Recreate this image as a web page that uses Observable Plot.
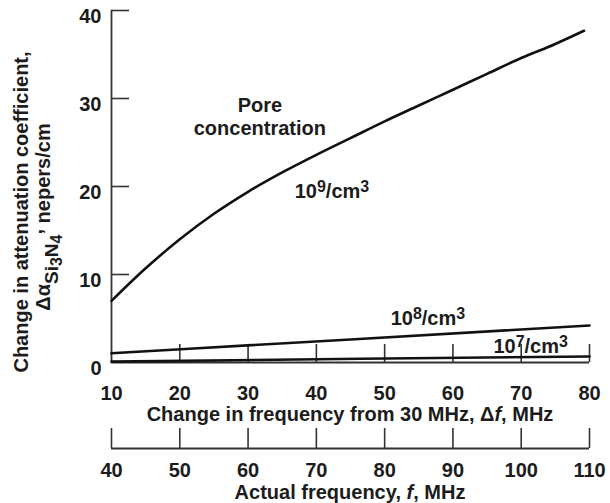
<!DOCTYPE html>
<html>
<head>
<meta charset="utf-8">
<script src="https://cdn.jsdelivr.net/npm/d3@7"></script>
<script src="https://cdn.jsdelivr.net/npm/@observablehq/plot@0.6"></script>
<style>
  body { margin: 0; background: #fff; }
  #chart svg { display: block; }
</style>
</head>
<body>
<div id="chart"></div>
<script>
// Change in attenuation coefficient of Si3N4 vs. frequency, for three pore concentrations.
const shiftTicks = [10, 20, 30, 40, 50, 60, 70, 80];          // Δf, MHz
const actualTicks = [40, 50, 60, 70, 80, 90, 100, 110];      // f, MHz
const alphaTicks = [0, 10, 20, 30, 40];                       // nepers/cm

// 10^9 pores/cm^3
const df9 = [10, 15, 20, 25, 30, 35, 40, 45, 50, 55, 60, 65, 70, 75, 79.2];
const alpha9 = [7.0, 10.7, 14.0, 16.9, 19.4, 21.6, 23.6, 25.5, 27.4, 29.2, 31.0, 32.8, 34.6, 36.2, 37.7];
// 10^8 pores/cm^3
const df8 = [10, 45, 80];
const alpha8 = [1.05, 2.62, 4.2];
// 10^7 pores/cm^3
const df7 = [10, 46.5, 80];
const alpha7 = [0.1, 0.42, 0.68];

const FONT = "'Liberation Sans', Arial, Helvetica, sans-serif";
const INK = "#1c1c1c";
const AXIS = "#333";

const toRows = (xs, ys) => xs.map((x, i) => ({x, y: ys[i]}));
const series = [toRows(df9, alpha9), toRows(df8, alpha8), toRows(df7, alpha7)];

const W = 610, H1 = 425, H2 = 78;
const mL = 111, mR = 21, mT = 10, mB = 63;
const innerW = W - mL - mR, innerH = H1 - mT - mB;
const TICK = 18;

const main = Plot.plot({
  width: W, height: H1,
  marginLeft: mL, marginRight: mR, marginTop: mT, marginBottom: mB,
  x: {domain: [10, 80]},
  y: {domain: [0, 40]},
  style: {fontFamily: FONT, fontWeight: "bold", fontSize: "20px", color: INK, background: "#fff"},
  marks: [
    Plot.axisX(shiftTicks, {tickSize: 0, tickPadding: 23, label: null, fontSize: 20, fontWeight: "bold", fill: INK}),
    Plot.axisY(alphaTicks, {tickSize: 0, tickPadding: 10, dy: 6.5, label: null, fontSize: 20, fontWeight: "bold", fill: INK}),
    Plot.tickX(shiftTicks.slice(1), {x: d => d, insetTop: innerH - TICK, stroke: AXIS, strokeWidth: 1.6}),
    Plot.tickY(alphaTicks.slice(1), {y: d => d, insetRight: innerW - TICK, stroke: AXIS, strokeWidth: 1.6}),
    Plot.ruleX([10], {stroke: AXIS, strokeWidth: 1.8}),
    Plot.ruleY([0], {stroke: AXIS, strokeWidth: 1.8}),
    ...series.map(rows => Plot.line(rows, {x: "x", y: "y", curve: "monotone-x", stroke: "#111", strokeWidth: 2.6}))
  ]
});

const sx = main.scale("x"), sy = main.scale("y");
const svg = d3.select(main);
const g = svg.append("g").attr("font-family", FONT).attr("font-weight", "bold").attr("fill", INK);

// curve annotations
const pore = g.append("text").attr("text-anchor", "middle").attr("font-size", 20)
  .attr("x", sx.apply(31.8)).attr("y", sy.apply(28.4));
pore.append("tspan").text("Pore");
pore.append("tspan").attr("x", sx.apply(31.8)).attr("dy", 22.5).text("concentration");

const densityLabels = [
  {exp: "9", x: 36.9, y: 18.6},
  {exp: "8", x: 50.95, y: 4.2},
  {exp: "7", x: 66.0, y: 1.0}
];
for (const d of densityLabels) {
  const t = g.append("text").attr("text-anchor", "start").attr("font-size", 20)
    .attr("x", sx.apply(d.x)).attr("y", sy.apply(d.y));
  t.append("tspan").text("10");
  t.append("tspan").attr("font-size", 16).attr("dy", -6).text(d.exp);
  t.append("tspan").attr("dy", 6).text("/cm");
  t.append("tspan").attr("font-size", 16).attr("dy", -6).text("3");
}

// x-axis title
const xt = g.append("text").attr("text-anchor", "middle").attr("font-size", 20)
  .attr("x", mL + innerW / 2).attr("y", 421);
xt.append("tspan").text("Change in frequency from 30 MHz, Δ");
xt.append("tspan").attr("font-style", "italic").text("f");
xt.append("tspan").text(", MHz");

// y-axis title, two lines
g.append("text").attr("text-anchor", "middle").attr("font-size", 20)
  .attr("transform", "translate(28,212) rotate(-90)")
  .text("Change in attenuation coefficient,");
const yt = g.append("text").attr("text-anchor", "middle").attr("font-size", 20)
  .attr("transform", "translate(50,217) rotate(-90)");
yt.append("tspan").text("Δα");
yt.append("tspan").attr("font-size", 19).attr("dy", 8).text("Si");
yt.append("tspan").attr("font-size", 16).attr("dy", 4).text("3");
yt.append("tspan").attr("font-size", 19).attr("dy", -4).text("N");
yt.append("tspan").attr("font-size", 16).attr("dy", 4).text("4");
yt.append("tspan").attr("dy", -20).text(",");
yt.append("tspan").attr("dy", 8).text(" nepers/cm");

// actual-frequency scale underneath
const lower = Plot.plot({
  width: W, height: H2,
  marginLeft: mL, marginRight: mR, marginTop: 3, marginBottom: 55,
  x: {domain: [40, 110]},
  y: {domain: [0, 1], axis: null},
  style: {fontFamily: FONT, fontWeight: "bold", fontSize: "20px", color: INK, background: "#fff"},
  marks: [
    Plot.axisX(actualTicks, {tickSize: 0, tickPadding: 14, label: null, fontSize: 20, fontWeight: "bold", fill: INK}),
    Plot.tickX(actualTicks, {x: d => d, stroke: AXIS, strokeWidth: 1.6}),
    Plot.ruleY([0], {stroke: AXIS, strokeWidth: 1.8})
  ]
});
const g2 = d3.select(lower).append("g").attr("font-family", FONT).attr("font-weight", "bold").attr("fill", INK);
const at = g2.append("text").attr("text-anchor", "middle").attr("font-size", 20)
  .attr("x", mL + innerW / 2).attr("y", 74);
at.append("tspan").text("Actual frequency, ");
at.append("tspan").attr("font-style", "italic").text("f");
at.append("tspan").text(", MHz");

document.getElementById("chart").append(main, lower);
</script>
</body>
</html>
